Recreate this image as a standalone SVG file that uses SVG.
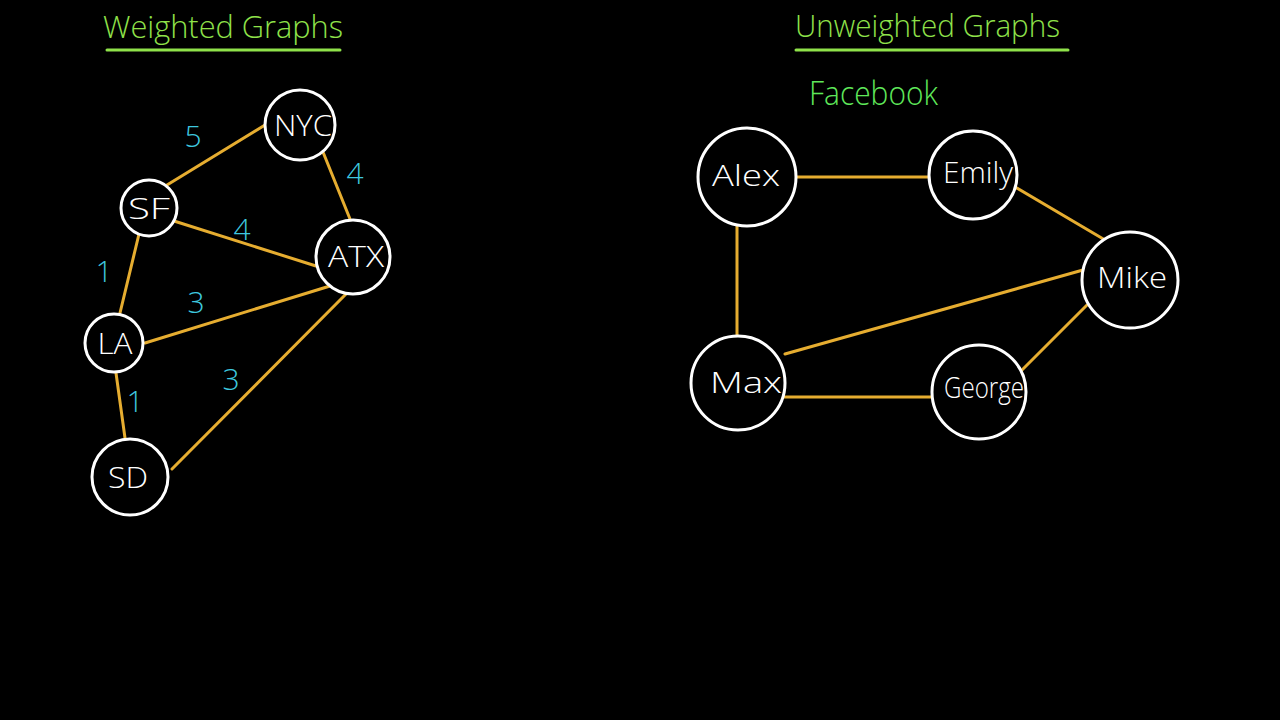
<svg xmlns="http://www.w3.org/2000/svg" width="1280" height="720" viewBox="0 0 1280 720">
<style>
.title{font-family:"Open Sans","Liberation Sans",sans-serif;font-weight:300;font-size:31px;fill:#8fe24a}
.ul{stroke:#8fe24a;stroke-width:3;stroke-linecap:round}
.fb{font-family:"Open Sans","Liberation Sans",sans-serif;font-weight:300;font-size:33px;fill:#5fe85a}
.edge{stroke:#e6ad30;stroke-width:3;stroke-linecap:round;fill:none}
.node circle{fill:#000;stroke:#fff;stroke-width:3}
.node text{font-family:"Open Sans","Liberation Sans",sans-serif;font-weight:300;font-size:30px;fill:#fff;text-anchor:middle;dominant-baseline:central}
.w{font-family:"Open Sans","Liberation Sans",sans-serif;font-weight:300;font-size:30px;fill:#3ec7df;text-anchor:middle;dominant-baseline:central}
</style>
<rect width="1280" height="720" fill="#000"/>
<g id="titles">
<text class="title" x="103" y="38" textLength="240" lengthAdjust="spacingAndGlyphs">Weighted Graphs</text>
<line class="ul" x1="107" y1="50" x2="340" y2="50"/>
<text class="title" x="795" y="37" textLength="265" lengthAdjust="spacingAndGlyphs">Unweighted Graphs</text>
<line class="ul" x1="796" y1="50" x2="1068" y2="50"/>
<text class="fb" x="809" y="105" textLength="129" lengthAdjust="spacingAndGlyphs">Facebook</text>
</g>
<g id="connectors">
<line class="edge" x1="167" y1="185" x2="265" y2="125"/>
<line class="edge" x1="323" y1="152" x2="350" y2="219"/>
<line class="edge" x1="174" y1="221" x2="316" y2="266"/>
<line class="edge" x1="139" y1="234" x2="120" y2="313"/>
<line class="edge" x1="145" y1="343" x2="330" y2="286"/>
<line class="edge" x1="116" y1="373" x2="125" y2="438"/>
<line class="edge" x1="172" y1="469" x2="347" y2="293"/>
<line class="edge" x1="797" y1="177" x2="929" y2="177"/>
<line class="edge" x1="737" y1="226" x2="737" y2="337"/>
<line class="edge" x1="1015" y1="187" x2="1105" y2="240"/>
<line class="edge" x1="785" y1="354" x2="1083" y2="270"/>
<line class="edge" x1="784" y1="397" x2="932" y2="397"/>
<line class="edge" x1="1021" y1="371" x2="1087" y2="305"/>
</g>
<g id="weights">
<text class="w" x="193" y="135">5</text>
<text class="w" x="355" y="172">4</text>
<text class="w" x="242" y="228">4</text>
<text class="w" x="104" y="270">1</text>
<text class="w" x="196" y="301">3</text>
<text class="w" x="231" y="378">3</text>
<text class="w" x="135" y="400">1</text>
</g>
<g id="node-NYC" class="node"><circle cx="300" cy="125" r="35"/><text x="303" y="124" textLength="58" lengthAdjust="spacingAndGlyphs">NYC</text></g>
<g id="node-SF" class="node"><circle cx="149" cy="208" r="28"/><text x="149" y="207" textLength="42" lengthAdjust="spacingAndGlyphs">SF</text></g>
<g id="node-ATX" class="node"><circle cx="353" cy="257" r="37"/><text x="356" y="255" textLength="56" lengthAdjust="spacingAndGlyphs">ATX</text></g>
<g id="node-LA" class="node"><circle cx="114" cy="343" r="29"/><text x="115" y="342" textLength="35" lengthAdjust="spacingAndGlyphs">LA</text></g>
<g id="node-SD" class="node"><circle cx="130" cy="477" r="38"/><text x="128" y="476" textLength="40" lengthAdjust="spacingAndGlyphs">SD</text></g>
<g id="node-Alex" class="node"><circle cx="747" cy="177" r="49"/><text x="746" y="174" textLength="68" lengthAdjust="spacingAndGlyphs">Alex</text></g>
<g id="node-Emily" class="node"><circle cx="973" cy="175" r="44"/><text x="978" y="171" textLength="70" lengthAdjust="spacingAndGlyphs">Emily</text></g>
<g id="node-Mike" class="node"><circle cx="1130" cy="280" r="48"/><text x="1132" y="276" textLength="70" lengthAdjust="spacingAndGlyphs">Mike</text></g>
<g id="node-Max" class="node"><circle cx="738" cy="383" r="47"/><text x="746" y="381" textLength="72" lengthAdjust="spacingAndGlyphs">Max</text></g>
<g id="node-George" class="node"><circle cx="979" cy="392" r="47"/><text x="984" y="386" textLength="80" lengthAdjust="spacingAndGlyphs">George</text></g>
</svg>
